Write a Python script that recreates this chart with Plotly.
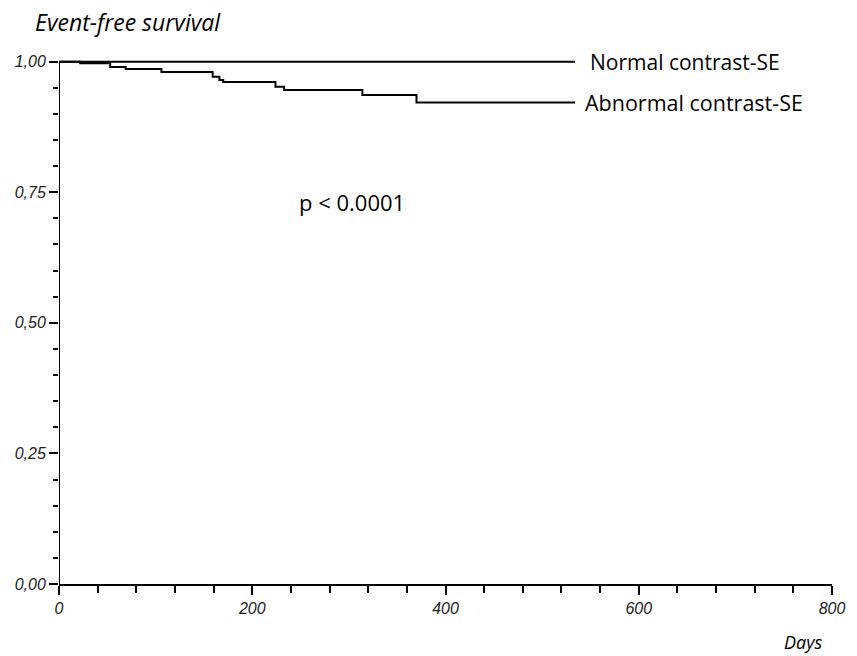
import plotly.graph_objects as go

# Data
normal_days = [0, 534]
normal_surv = [1.0, 1.0]

abnormal_days = [0, 22, 53, 69, 106, 159, 166, 170, 224, 233, 314, 370, 534]
abnormal_surv = [1.0, 0.997, 0.990, 0.986, 0.980, 0.971, 0.965, 0.961, 0.952, 0.946, 0.936, 0.922, 0.922]

x_tickvals = [0, 200, 400, 600, 800]
x_ticktext = ["0", "200", "400", "600", "800"]
y_tickvals = [0, 0.25, 0.5, 0.75, 1.0]
y_ticktext = ["0,00", "0,25", "0,50", "0,75", "1,00"]

fig = go.Figure()
fig.add_trace(go.Scatter(x=normal_days, y=normal_surv, mode="lines",
                         line=dict(color="black", width=2, shape="hv"),
                         name="Normal contrast-SE", showlegend=False))
fig.add_trace(go.Scatter(x=abnormal_days, y=abnormal_surv, mode="lines",
                         line=dict(color="black", width=2, shape="hv"),
                         name="Abnormal contrast-SE", showlegend=False))

tickfont = dict(family="Liberation Sans", size=16, color="#222222", style="italic")

fig.update_layout(
    width=857, height=656,
    margin=dict(l=58.5, r=18.3, t=46, b=71.7),
    plot_bgcolor="white", paper_bgcolor="white",
    xaxis=dict(range=[0, 800], tickmode="array", tickvals=x_tickvals, ticktext=x_ticktext,
               showgrid=False, zeroline=False, showline=True, linecolor="black", linewidth=2,
               ticks="outside", ticklen=9, tickwidth=2, tickcolor="black", tickfont=tickfont,
               minor=dict(ticks="outside", tick0=0, dtick=40, ticklen=7, tickwidth=2, tickcolor="black")),
    yaxis=dict(range=[0, 1.03], tickmode="array", tickvals=y_tickvals, ticktext=y_ticktext,
               showgrid=False, zeroline=False, showline=False,
               ticks="outside", ticklen=9, tickwidth=2, tickcolor="black", tickfont=tickfont,
               minor=dict(ticks="outside", tick0=0, dtick=0.05, ticklen=5, tickwidth=2, tickcolor="black")),
    shapes=[dict(type="line", xref="x", yref="y", x0=0, x1=0, y0=0, y1=1.0,
                 line=dict(color="black", width=2))],
    annotations=[
        dict(text="Event-free survival", xref="paper", yref="paper", x=-0.034, y=1.0,
             xanchor="left", yanchor="middle", yshift=24, showarrow=False,
             font=dict(family="Open Sans", size=23, color="black", style="italic")),
        dict(text="Normal contrast-SE", xref="x", yref="y", x=534, y=1.0, xanchor="left",
             yanchor="middle", xshift=13, showarrow=False,
             font=dict(family="Open Sans", size=21, color="black")),
        dict(text="Abnormal contrast-SE", xref="x", yref="y", x=534, y=0.922, xanchor="left",
             yanchor="middle", xshift=8, showarrow=False,
             font=dict(family="Open Sans", size=21.5, color="black")),
        dict(text="p < 0.0001", xref="x", yref="y", x=246, y=0.732, xanchor="left",
             yanchor="middle", showarrow=False,
             font=dict(family="Open Sans", size=22, color="black")),
        dict(text="Days", xref="paper", yref="paper", x=1.0, y=0, xanchor="right",
             yanchor="middle", yshift=-58, xshift=-8, showarrow=False,
             font=dict(family="Open Sans", size=18, color="black", style="italic")),
    ],
)

fig.write_html("out.html")
